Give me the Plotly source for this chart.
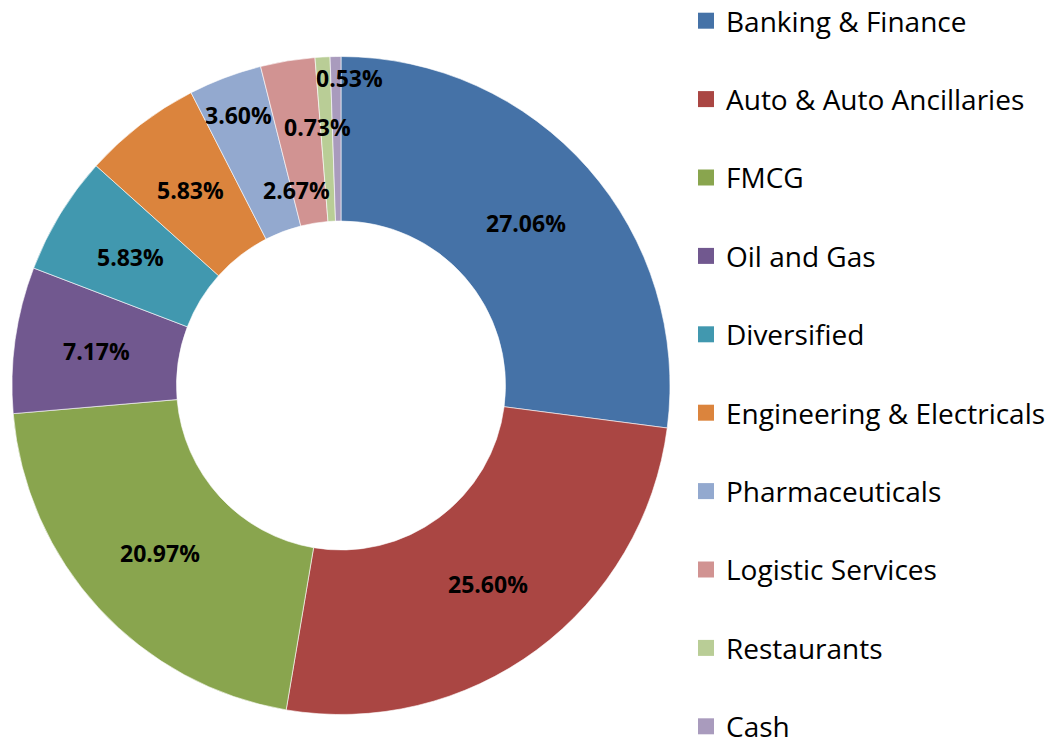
import math
import plotly.graph_objects as go

categories = ["Banking & Finance", "Auto & Auto Ancillaries", "FMCG", "Oil and Gas",
              "Diversified", "Engineering & Electricals", "Pharmaceuticals",
              "Logistic Services", "Restaurants", "Cash"]
values = [27.06, 25.60, 20.97, 7.17, 5.83, 5.83, 3.60, 2.67, 0.73, 0.53]
colors = ["#4572A7", "#AA4643", "#89A54E", "#71588F", "#4198AF",
          "#DB843D", "#93A9CF", "#D19392", "#B9CD96", "#A99BBD"]

# label placement style: fraction across ring (0=inner,1=outer) and angle nudge (deg)
label_ring = [0.5, 0.5, 0.5, 0.5, 0.5, 0.5, 0.76, 0.22, 0.58, 0.87]
label_nudge = [0, 0, 0, 0, 0, 0, 0, -3.5, -2.0, 2.6]

W, H = 1050, 740
dom_x = [12 / W, 670 / W]
dom_y = [25 / H, 684 / H]
hole = 0.5

FONT = "Open Sans"

fig = go.Figure()
fig.add_trace(go.Pie(
    labels=categories, values=values, sort=False, direction="clockwise",
    rotation=0, hole=hole, marker=dict(colors=colors, line=dict(color="white", width=0.6)),
    textinfo="none", showlegend=False, domain=dict(x=dom_x, y=dom_y),
    hoverinfo="label+percent",
))

# legend via invisible scatter traces
for i, (c, col) in enumerate(zip(categories, colors)):
    fig.add_trace(go.Scatter(
        x=[None], y=[None], mode="markers", name=c, legendgroup=f"g{i}",
        marker=dict(symbol="square", size=16, color=col), showlegend=True,
    ))

# labels computed from data
cx_px = (dom_x[0] + dom_x[1]) / 2 * W
cy_px = (1 - (dom_y[0] + dom_y[1]) / 2) * H
R = min((dom_x[1] - dom_x[0]) * W, (dom_y[1] - dom_y[0]) * H) / 2
r_in = R * hole
total = sum(values)
cum = 0
annotations = []
for v, fr, nd in zip(values, label_ring, label_nudge):
    mid = (cum + v / 2) / total * 360 + nd
    cum += v
    rr = r_in + (R - r_in) * fr
    px = cx_px + rr * math.sin(math.radians(mid))
    py = cy_px - rr * math.cos(math.radians(mid))
    annotations.append(dict(
        x=px / W, y=1 - py / H, xref="paper", yref="paper",
        text=f"<b>{v:.2f}%</b>", showarrow=False,
        font=dict(family=FONT, size=23, color="black"),
        xanchor="center", yanchor="middle",
    ))

fig.update_layout(
    width=W, height=H, margin=dict(l=0, r=0, t=0, b=0, autoexpand=False),
    paper_bgcolor="white", plot_bgcolor="white",
    xaxis=dict(visible=False), yaxis=dict(visible=False),
    annotations=annotations,
    legend=dict(
        x=686 / W, xanchor="left", y=1.0 + 4 / H, yanchor="top",
        font=dict(family=FONT, size=28, color="black"),
        tracegroupgap=39, bgcolor="rgba(0,0,0,0)", borderwidth=0,
        itemclick=False, itemdoubleclick=False, maxheight=900,
    ),
    showlegend=True,
)

fig.write_html("out.html", post_script="document.body.style.margin='0';",
               config={"displayModeBar": False})
